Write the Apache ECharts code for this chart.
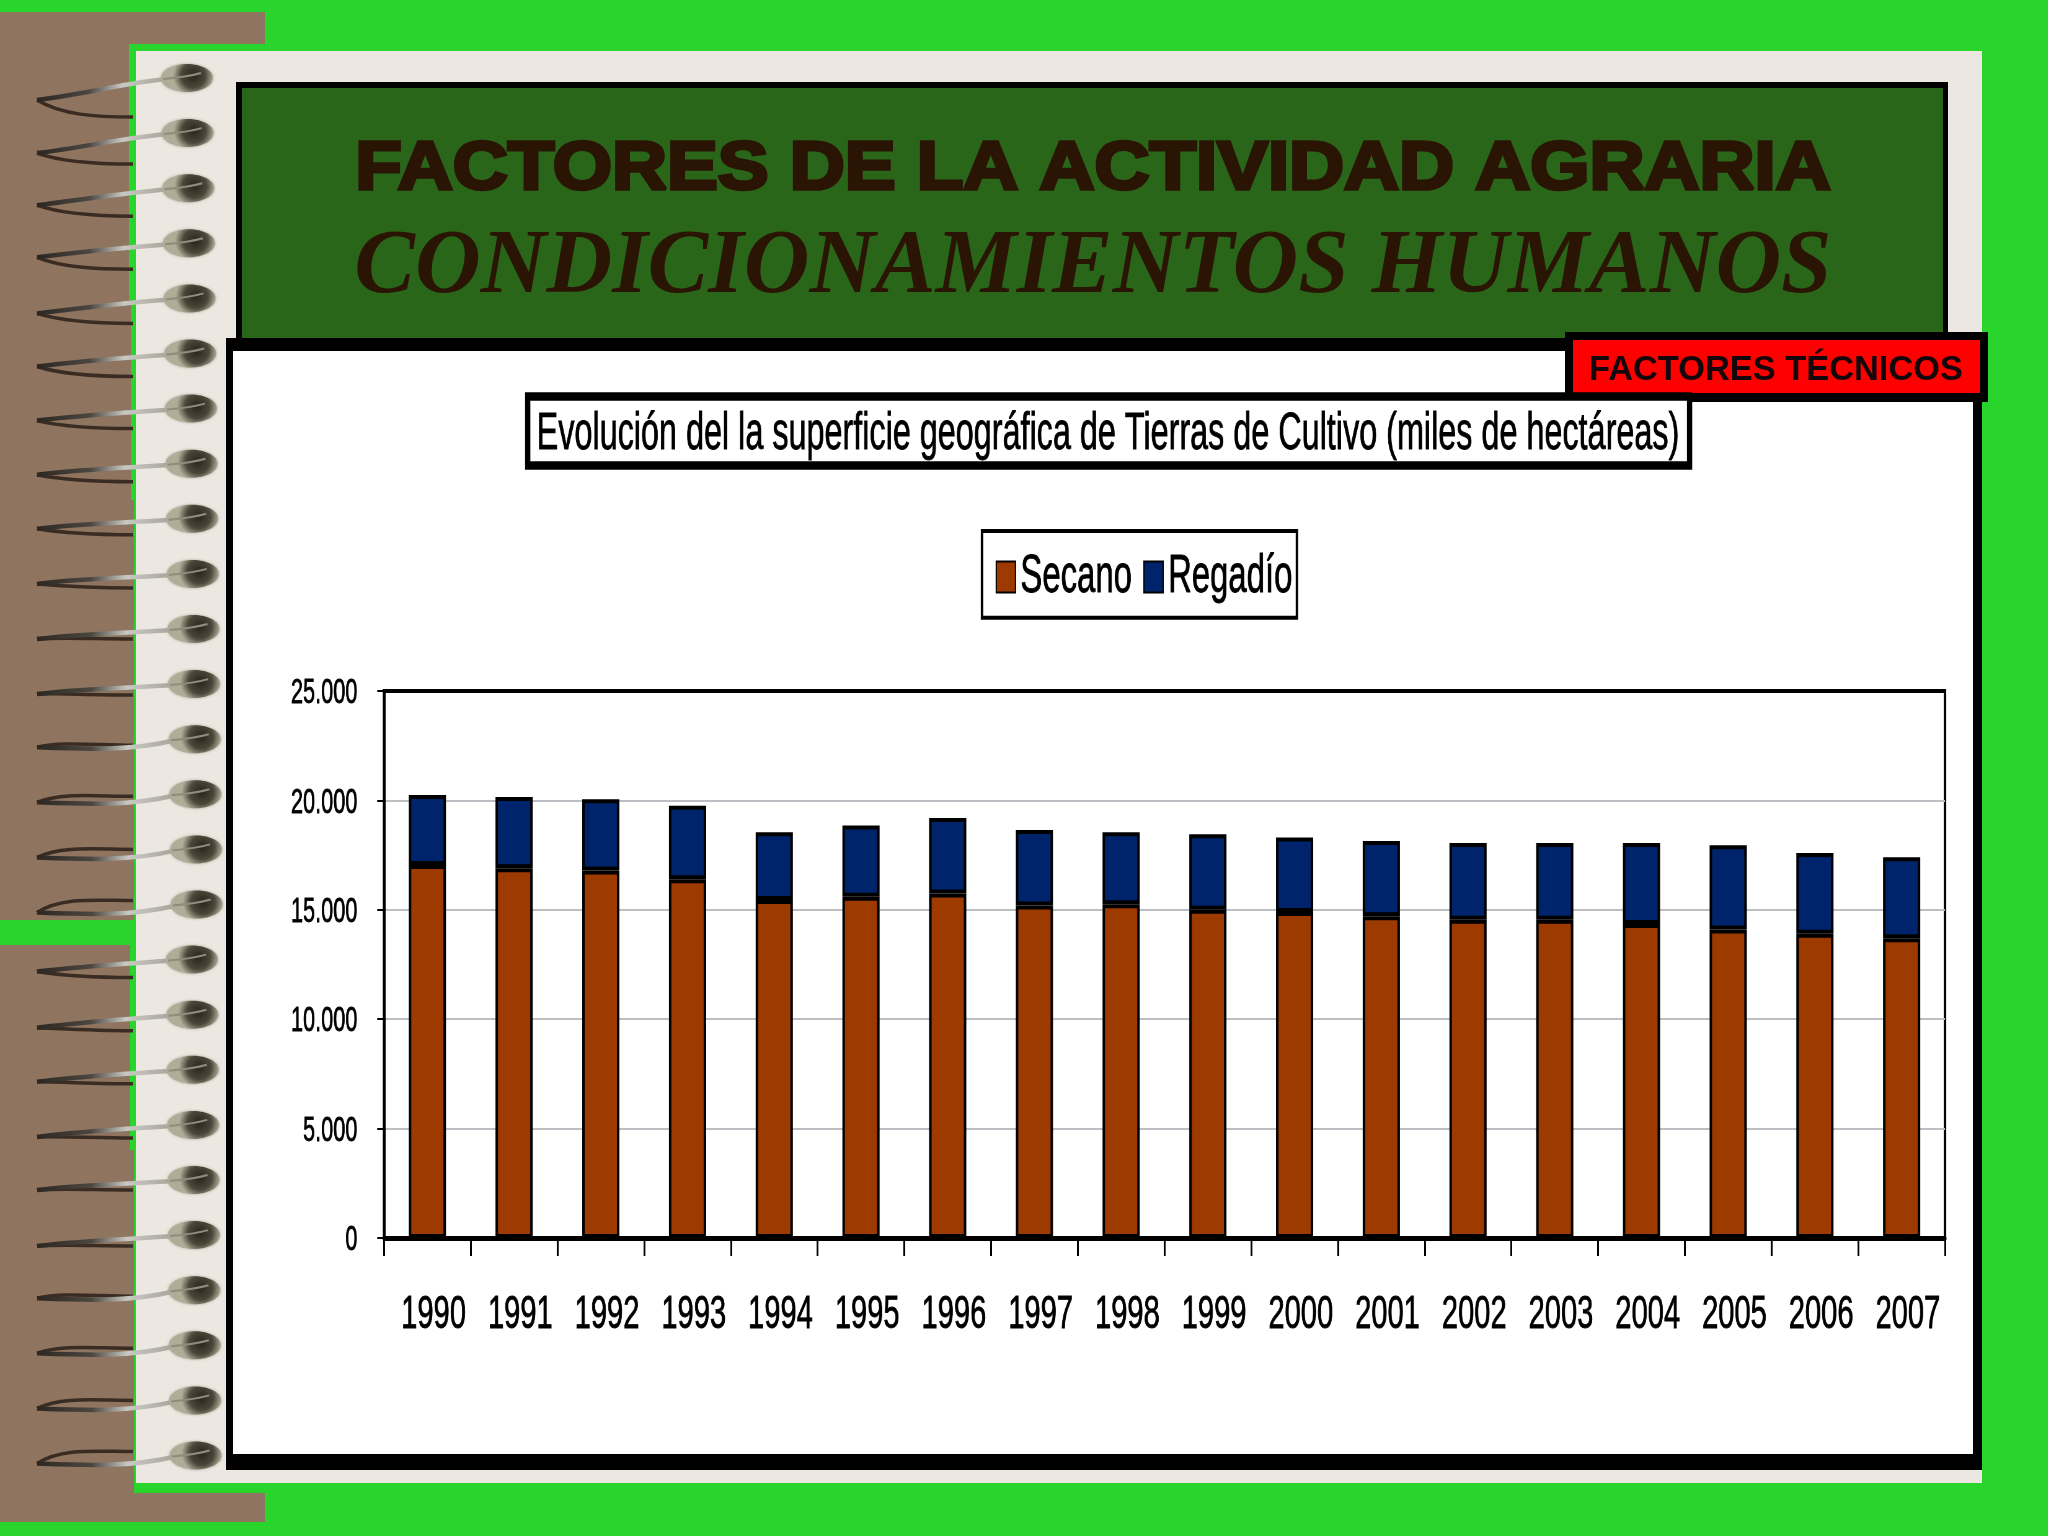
<!DOCTYPE html>
<html>
<head>
<meta charset="utf-8">
<title>Factores de la actividad agraria</title>
<script src="https://cdn.jsdelivr.net/npm/echarts@6/dist/echarts.min.js"></script>
<style>
  html, body { margin: 0; padding: 0; background: #29d42c; overflow: hidden; }
  #page { position: absolute; left: 0; top: 0; width: 2048px; height: 1536px; }
  /* the original chart is a picture squeezed sideways, so squeeze ours the same way */
  #chart { position: absolute; left: 0; top: 0; height: 1536px; transform-origin: 0 0; }
</style>
</head>
<body>
<div id="page"></div>
<div id="chart"></div>
<script>
const years = ['1990', '1991', '1992', '1993', '1994', '1995', '1996', '1997', '1998', '1999', '2000', '2001', '2002', '2003', '2004', '2005', '2006', '2007']
const secano = [17050, 16900, 16800, 16400, 15450, 15600, 15750, 15200, 15250, 15000, 14900, 14700, 14550, 14550, 14350, 14100, 13900, 13700]
const regadio = [3200, 3250, 3250, 3350, 3100, 3250, 3450, 3450, 3300, 3450, 3400, 3450, 3500, 3500, 3700, 3850, 3700, 3700]
const yTicks = ['0', '5.000', '10.000', '15.000', '20.000', '25.000']

const titleText = 'Evolución del la superficie geográfica de Tierras de Cultivo (miles de hectáreas)'
const SX = 0.62 // horizontal squeeze of the chart
const px = x => x / SX

const GREEN = '#29d42c'
const BROWN = '#8f745f'
const PAPER = '#ece7e1'
const INK = '#2a1505'

function rect(x, y, w, h, fill) {
  return { type: 'rect', silent: true, shape: { x: x, y: y, width: w, height: h }, style: { fill: fill } }
}

// the wire rings of the notebook: how far the tip and the back wire drop below each ring's blob
const ringTip = [22, 20, 17, 14, 15, 13, 12, 11, 10, 10, 10, 10, 8, 8, 8, 8, 12, 13, 12, 12, 10, 11, 8, 8, 8, 8]
const ringBack = [39, 31, 28, 26, 25, 23, 20, 18, 16, 14, 10, 11, 6, 2, 0, -4, 18, 16, 14, 13, 10, 11, 6, 3, 0, -4]

function ring(i) {
  const y = 78 + i * 55.1
  const cx = i < 16 ? 187 + i * 0.65 : 192 + (i - 16) * 0.4
  const tip = y + ringTip[i]
  const back = y + ringBack[i]
  const tipX = 37
  const bulge = ringBack[i] < ringTip[i] ? 8 : 0
  const frontGrad = {
    type: 'linear', x: 0, y: 0, x2: 1, y2: 0,
    colorStops: [
      { offset: 0, color: '#2c2620' },
      { offset: 0.4, color: '#4a4640' },
      { offset: 0.65, color: '#c9c9c4' },
      { offset: 1, color: '#a4a298' }
    ]
  }
  return [
    {
      type: 'bezierCurve', silent: true,
      shape: { x1: tipX, y1: tip, cpx1: 62, cpy1: back + (back < tip ? -4 : -2), cpx2: 95, cpy2: back, x2: 133, y2: back },
      style: { stroke: '#3a2c22', lineWidth: 3.5, fill: 'none' }
    },
    {
      type: 'bezierCurve', silent: true,
      shape: { x1: cx - 20, y1: y + 1, cpx1: 130, cpy1: y + 4 + bulge, cpx2: 85, cpy2: tip + bulge - 6, x2: tipX, y2: tip },
      style: { stroke: frontGrad, lineWidth: 4.5, fill: 'none' }
    },
    {
      type: 'ellipse', silent: true,
      shape: { cx: cx, cy: y, rx: 26, ry: 14 },
      style: {
        fill: {
          type: 'radial', x: 0.62, y: 0.42, r: 0.72,
          colorStops: [
            { offset: 0, color: '#2a251c' },
            { offset: 0.6, color: '#4c473a' },
            { offset: 1, color: '#b0ac98' }
          ]
        },
        shadowBlur: 3, shadowColor: '#a9a595'
      }
    },
    {
      type: 'bezierCurve', silent: true,
      shape: { x1: cx - 24, y1: y + 1, cpx1: cx - 12, cpy1: y, cpx2: cx, cpy2: y - 1, x2: cx + 14, y2: y - 5 },
      style: { stroke: '#8f8c7e', lineWidth: 2, fill: 'none' }
    }
  ]
}

let spirals = []
for (let i = 0; i < ringTip.length; i++) {
  spirals = spirals.concat(ring(i))
}

// paper, frames and heading
const pageChart = echarts.init(document.getElementById('page'), null, { width: 2048, height: 1536 })
pageChart.setOption({
  backgroundColor: GREEN,
  graphic: [
    rect(0, 12, 265, 32, BROWN),
    rect(0, 1493, 265, 29, BROWN),
    rect(0, 44, 129, 256, BROWN),
    rect(0, 300, 131, 200, BROWN),
    rect(0, 500, 134, 420, BROWN),
    rect(0, 945, 130, 205, BROWN),
    rect(0, 1150, 134, 372, BROWN),
    rect(136, 51, 1846, 1432, PAPER),
    rect(236, 82, 1712, 270, '#000'),
    rect(242, 88, 1701, 250, '#2a661a'),
    rect(226, 338, 1756, 1132, '#000'),
    rect(233, 351, 1740, 1103, '#fff'),
    rect(1565, 332, 423, 70, '#000'),
    rect(1573, 340, 407, 53, '#ff0000'),
    {
      type: 'text', silent: true, x: 1093, y: 170, scaleX: 1.12,
      style: {
        text: 'FACTORES DE LA ACTIVIDAD AGRARIA',
        font: 'bold 68px "Liberation Sans"',
        fill: INK, stroke: INK, lineWidth: 3.5,
        align: 'center', verticalAlign: 'middle'
      }
    },
    {
      type: 'text', silent: true, x: 1093, y: 268,
      style: {
        text: 'CONDICIONAMIENTOS HUMANOS',
        font: 'italic bold 91px "Liberation Serif"',
        fill: INK,
        align: 'center', verticalAlign: 'middle'
      }
    },
    {
      type: 'text', silent: true, x: 1776, y: 371,
      style: {
        text: 'FACTORES TÉCNICOS',
        font: 'bold 34.4px "Liberation Sans"',
        fill: '#14060a',
        align: 'center', verticalAlign: 'middle'
      }
    }
  ].concat(spirals)
})

// the chart itself
const chartDom = document.getElementById('chart')
chartDom.style.width = px(2048) + 'px'
chartDom.style.transform = 'scaleX(' + SX + ')'
const chart = echarts.init(chartDom, null, { width: px(2048), height: 1536 })
const font = '"Liberation Sans"'
chart.setOption({
  animation: false,
  backgroundColor: 'transparent',
  title: {
    text: titleText,
    left: px(528),
    top: 397,
    padding: [12, 16, 4, 14],
    backgroundColor: '#fff',
    borderColor: '#000',
    borderWidth: 8.5,
    textStyle: {
      fontFamily: font, fontSize: 52.2, fontWeight: 'normal', color: '#000',
      textBorderColor: '#000', textBorderWidth: 0.8
    }
  },
  legend: {
    left: px(982),
    top: 531,
    padding: [19, 7, 14, 22],
    icon: 'rect',
    itemWidth: 31,
    itemHeight: 31,
    itemGap: 18,
    backgroundColor: '#fff',
    borderColor: '#000',
    borderWidth: 4,
    textStyle: {
      fontFamily: font, fontSize: 53, color: '#000', padding: [0, 0, 0, 3],
      textBorderColor: '#000', textBorderWidth: 0.8
    },
    data: ['Secano', 'Regadío']
  },
  grid: {
    left: px(384),
    top: 691,
    width: px(1945 - 384),
    height: 1238 - 691,
    show: true,
    borderColor: '#000',
    borderWidth: 4
  },
  xAxis: {
    type: 'category',
    data: years,
    axisLine: { lineStyle: { color: '#000', width: 5 } },
    axisTick: { show: true, length: 18, lineStyle: { color: '#000', width: 3 } },
    axisLabel: {
      color: '#000', fontFamily: font, fontSize: 47, margin: 54,
      padding: [0, 0, 0, 20], interval: 0,
      textBorderColor: '#000', textBorderWidth: 0.8
    }
  },
  yAxis: {
    type: 'value',
    min: 0,
    max: 25000,
    interval: 5000,
    axisLine: { show: true, lineStyle: { color: '#000', width: 4 } },
    axisTick: { show: true, length: 11, lineStyle: { color: '#000', width: 2 } },
    axisLabel: {
      color: '#000', fontFamily: font, fontSize: 35, margin: 43,
      verticalAlign: 'top', lineHeight: 5, // sits a little under its tick
      textBorderColor: '#000', textBorderWidth: 0.8,
      formatter: v => yTicks[v / 5000]
    },
    splitLine: { showMinLine: false, showMaxLine: false, lineStyle: { color: '#bdbdc4', width: 2 } }
  },
  series: [
    {
      name: 'Secano', type: 'bar', stack: 'total', barWidth: 60, data: secano,
      itemStyle: { color: '#9c3a00', borderColor: '#000', borderWidth: 4 }
    },
    {
      name: 'Regadío', type: 'bar', stack: 'total', barWidth: 60, data: regadio,
      itemStyle: { color: '#00246b', borderColor: '#000', borderWidth: 4 }
    }
  ]
})
</script>
</body>
</html>
